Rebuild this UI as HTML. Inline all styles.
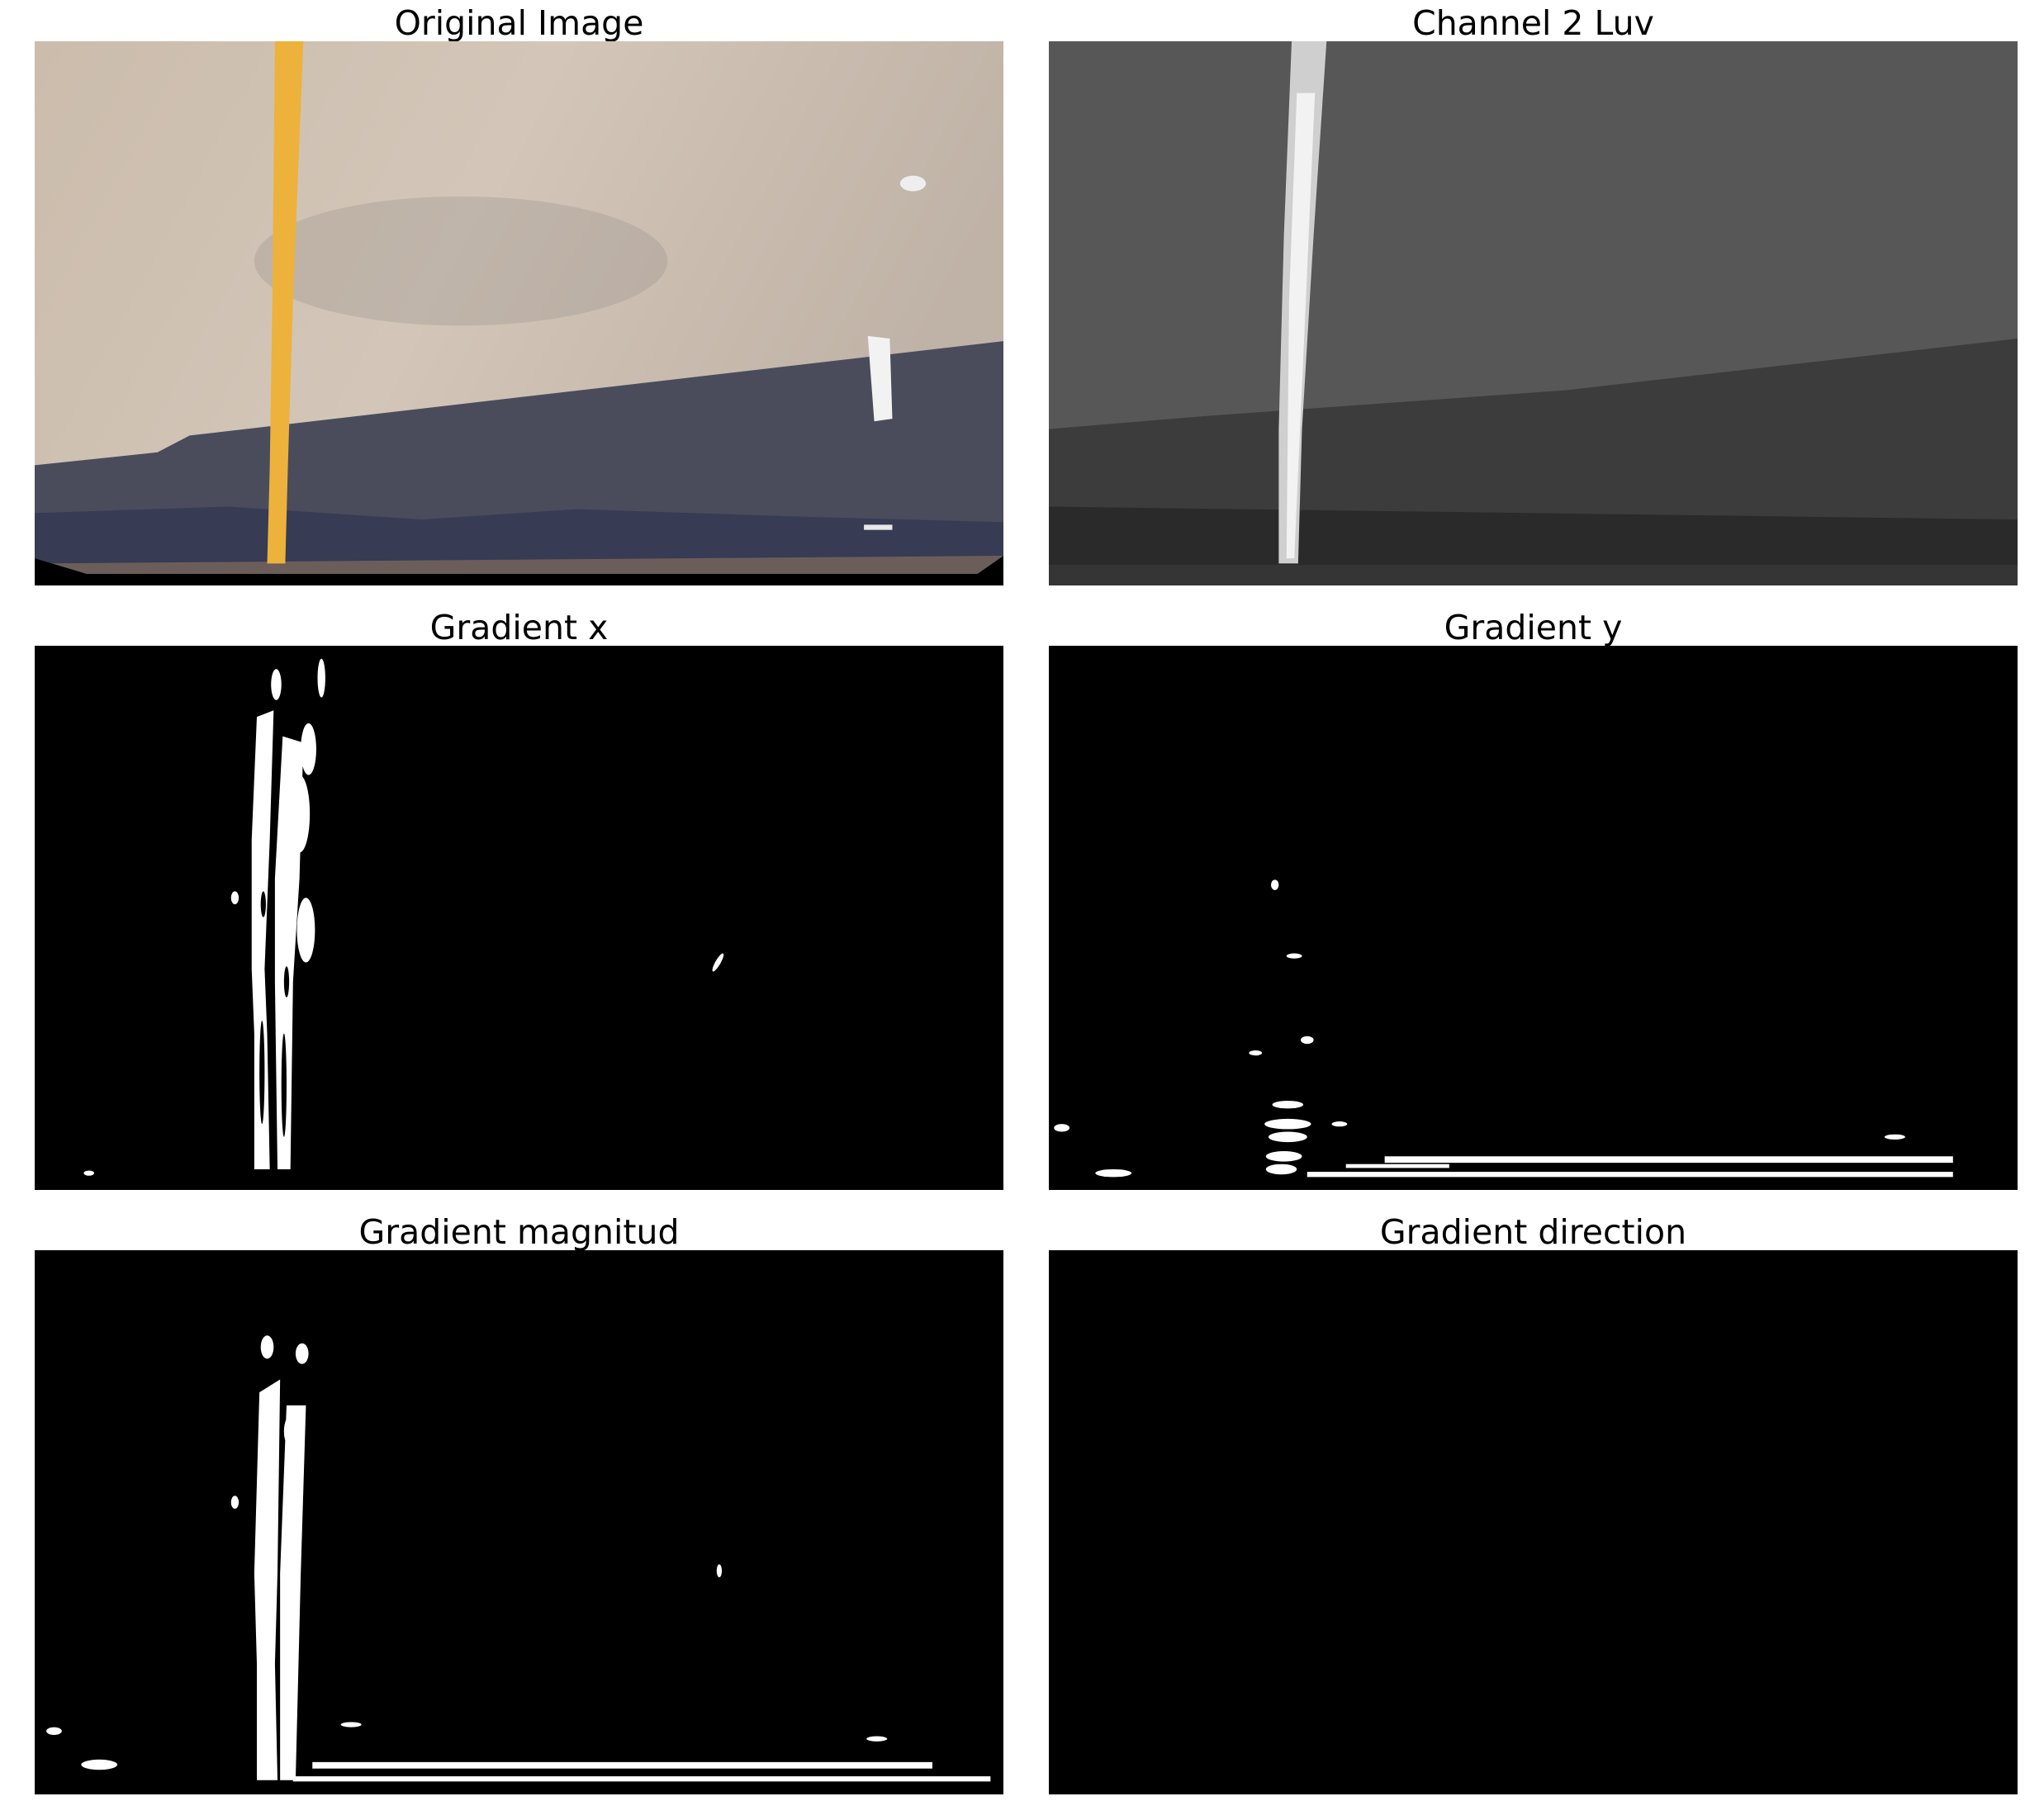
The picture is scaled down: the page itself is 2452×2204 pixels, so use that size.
<!DOCTYPE html>
<html><head><meta charset="utf-8"><style>
html,body{margin:0;padding:0;background:#fff;width:2452px;height:2204px;overflow:hidden;font-family:"Liberation Sans","DejaVu Sans",sans-serif;}
.title{position:absolute;width:1173px;text-align:center;font-family:"DejaVu Sans","Liberation Sans",sans-serif;font-size:41px;color:#000;line-height:44px;}
svg.panel{position:absolute;width:1173px;height:659px;}
</style></head><body>

<div class="title" style="left:42px;top:6px">Original Image</div>
<div class="title" style="left:1270px;top:6px">Channel 2 Luv</div>
<div class="title" style="left:42px;top:738px">Gradient x</div>
<div class="title" style="left:1270px;top:738px">Gradient y</div>
<div class="title" style="left:42px;top:1470px">Gradient magnitud</div>
<div class="title" style="left:1270px;top:1470px">Gradient direction</div>

<!-- Original image -->
<svg class="panel" style="left:42px;top:50px" viewBox="0 0 750 421" preserveAspectRatio="none">
<defs><linearGradient id="sky" x1="0" y1="0" x2="1" y2="0.3"><stop offset="0" stop-color="#cbbcac"/><stop offset="0.5" stop-color="#d3c6b8"/><stop offset="1" stop-color="#bfb2a6"/></linearGradient></defs>
<rect width="750" height="421" fill="url(#sky)"/>
<ellipse cx="330" cy="170" rx="160" ry="50" fill="#9f968f" opacity="0.35"/>
<polygon points="0,328 95,318 120,305 750,232 750,410 0,410" fill="#4a4c5c"/>
<polygon points="0,365 150,360 300,370 420,362 600,368 750,372 750,405 0,405" fill="#2f3450" opacity="0.7"/>
<polygon points="0,404 750,398 750,412 0,412" fill="#6b5e5a"/>
<polygon points="0,400 40,412 730,412 750,398 750,421 0,421" fill="#000"/>
<polygon points="186,0 208,0 200,200 196,330 194,404 180,404 182,330 184,200" fill="#ecb23c"/>
<polygon points="645,228 662,230 664,292 650,294" fill="#f2f2f2"/>
<rect x="642" y="374" width="22" height="4" fill="#e8e8e8"/>
<ellipse cx="680" cy="110" rx="10" ry="6" fill="#eee"/>
</svg>

<!-- Channel 2 Luv -->
<svg class="panel" style="left:1270px;top:50px" viewBox="0 0 750 421" preserveAspectRatio="none">
<rect width="750" height="421" fill="#575757"/>
<polygon points="0,300 120,290 400,270 750,230 750,421 0,421" fill="#3c3c3c"/>
<polygon points="0,360 750,370 750,405 0,405" fill="#2a2a2a"/>
<polygon points="0,405 750,405 750,421 0,421" fill="#353535"/>
<polygon points="188,0 215,0 205,150 196,300 193,404 178,404 178,300 182,150" fill="#cfcfcf"/>
<polygon points="192,40 206,40 199,200 190,400 184,400 186,200" fill="#f2f2f2"/>
</svg>

<!-- Gradient x -->
<svg class="panel" style="left:42px;top:782px" viewBox="0 0 750 421" preserveAspectRatio="none">
<rect width="750" height="421" fill="#000"/>
<g fill="#fff">
<path d="M172,55 L185,50 L182,150 L178,250 L180,300 L182,405 L170,405 L170,300 L168,250 L168,150 Z"/>
<path d="M192,70 L208,75 L205,180 L200,260 L198,405 L188,405 L186,260 L186,180 Z"/>
<ellipse cx="187" cy="30" rx="4" ry="12"/><ellipse cx="222" cy="25" rx="3" ry="15"/>
<ellipse cx="212" cy="80" rx="6" ry="20"/><ellipse cx="205" cy="130" rx="8" ry="30"/>
<ellipse cx="210" cy="220" rx="7" ry="25"/><ellipse cx="155" cy="195" rx="3" ry="5"/>
<ellipse cx="529" cy="245" rx="2" ry="8" transform="rotate(30 529 245)"/>
<ellipse cx="42" cy="408" rx="4" ry="2"/>
</g>
<g fill="#000"><ellipse cx="177" cy="200" rx="2" ry="10"/><ellipse cx="195" cy="260" rx="2" ry="12"/><ellipse cx="176" cy="330" rx="2" ry="40"/><ellipse cx="193" cy="340" rx="2" ry="40"/></g>
</svg>

<!-- Gradient y -->
<svg class="panel" style="left:1270px;top:782px" viewBox="0 0 750 421" preserveAspectRatio="none">
<rect width="750" height="421" fill="#000"/>
<g fill="#fff">
<rect x="260" y="395" width="440" height="5"/><rect x="200" y="407" width="500" height="4"/>
<rect x="230" y="401" width="80" height="3"/>
<ellipse cx="185" cy="370" rx="18" ry="4"/><ellipse cx="185" cy="380" rx="15" ry="4"/><ellipse cx="182" cy="395" rx="14" ry="4"/><ellipse cx="180" cy="405" rx="12" ry="4"/>
<ellipse cx="185" cy="355" rx="12" ry="3"/><ellipse cx="200" cy="305" rx="5" ry="3"/><ellipse cx="190" cy="240" rx="6" ry="2"/>
<ellipse cx="175" cy="185" rx="3" ry="4"/><ellipse cx="160" cy="315" rx="5" ry="2"/>
<ellipse cx="50" cy="408" rx="14" ry="3"/><ellipse cx="10" cy="373" rx="6" ry="3"/>
<ellipse cx="655" cy="380" rx="8" ry="2"/><ellipse cx="225" cy="370" rx="6" ry="2"/>
</g>
</svg>

<!-- Gradient magnitude -->
<svg class="panel" style="left:42px;top:1514px" viewBox="0 0 750 421" preserveAspectRatio="none">
<rect width="750" height="421" fill="#000"/>
<g fill="#fff">
<path d="M174,110 L190,100 L188,250 L186,320 L188,410 L172,410 L172,320 L170,250 Z"/>
<path d="M195,120 L210,120 L206,250 L202,410 L190,410 L190,250 Z"/>
<ellipse cx="180" cy="75" rx="5" ry="9"/><ellipse cx="207" cy="80" rx="5" ry="8"/><ellipse cx="198" cy="140" rx="5" ry="12"/>
<rect x="215" y="396" width="480" height="5"/><rect x="200" y="407" width="540" height="4"/>
<ellipse cx="245" cy="367" rx="8" ry="2"/><ellipse cx="50" cy="398" rx="14" ry="4"/><ellipse cx="15" cy="372" rx="6" ry="3"/>
<ellipse cx="652" cy="378" rx="8" ry="2"/><ellipse cx="155" cy="195" rx="3" ry="5"/><ellipse cx="530" cy="248" rx="2" ry="5"/>
</g>
</svg>

<!-- Gradient direction -->
<svg class="panel" style="left:1270px;top:1514px" viewBox="0 0 750 421" preserveAspectRatio="none">
<rect width="750" height="421" fill="#000"/>
</svg>
</body></html>
